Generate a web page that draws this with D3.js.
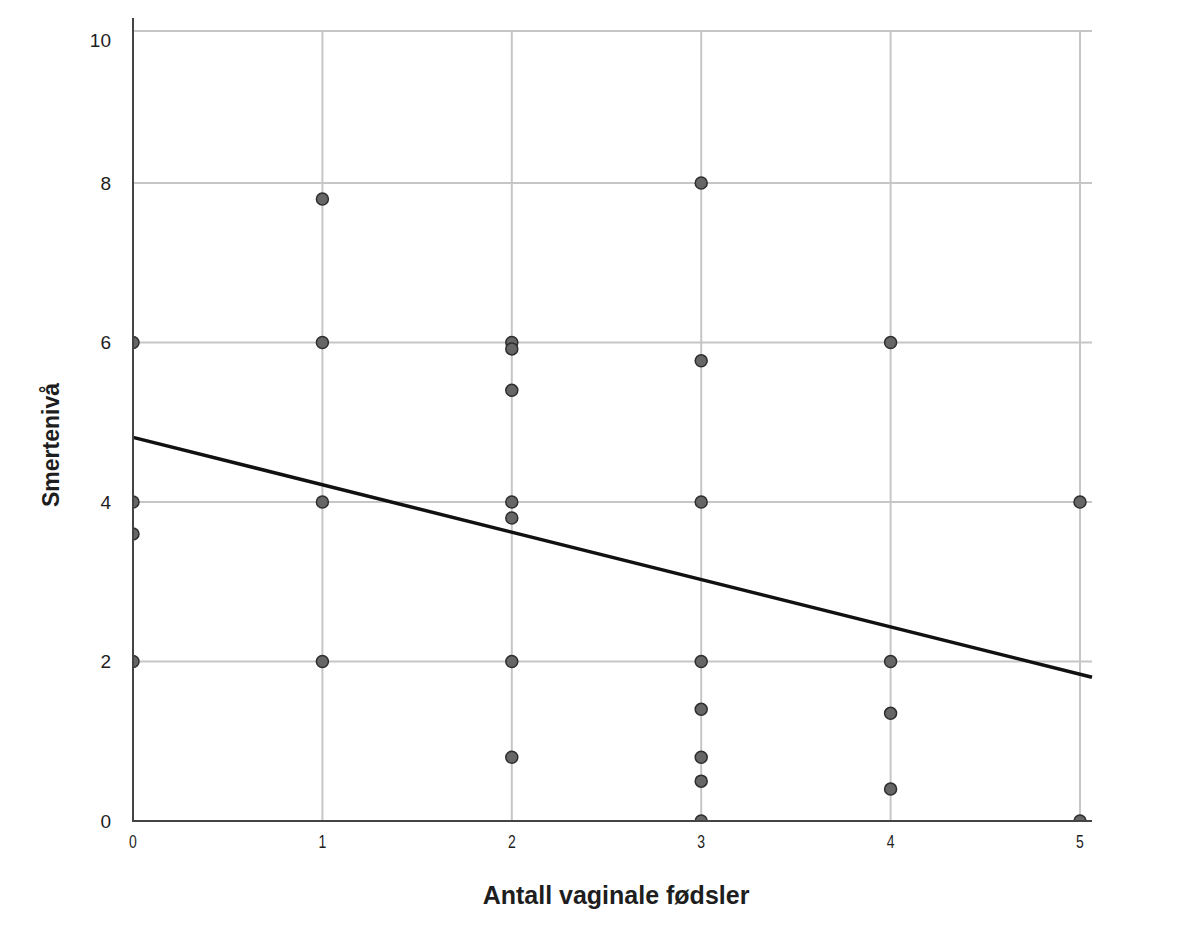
<!DOCTYPE html>
<html>
<head>
<meta charset="utf-8">
<script src="https://cdn.jsdelivr.net/npm/d3@7"></script>
<style>
  body { margin: 0; background: #fff; }
  text { font-family: "Liberation Sans", Arial, sans-serif; fill: #1e1e1e; }
</style>
</head>
<body>
<div id="chart"></div>
<script>
// births (x) and pain level (y) for each respondent
let births = [0, 0, 0, 0,
  1, 1, 1, 1,
  2, 2, 2, 2, 2, 2, 2,
  3, 3, 3, 3, 3, 3, 3, 3,
  4, 4, 4, 4,
  5, 5]
let pain = [6, 4, 3.6, 2,
  7.8, 6, 4, 2,
  6, 5.92, 5.4, 4, 3.8, 2, 0.8,
  8, 5.77, 4, 2, 1.4, 0.8, 0.5, 0,
  6, 2, 1.35, 0.4,
  4, 0]
let xTicks = [0, 1, 2, 3, 4, 5]
let yTicks = [0, 2, 4, 6, 8, 10]
// fitted line
let intercept = 4.81
let slope = -0.594

let width = 1202
let height = 952

let svg = d3.select('#chart')
  .append('svg')
  .attr('width', width)
  .attr('height', height)

let x = d3.scaleLinear().domain([0, 5]).range([133, 1080])
// top of picture is a little squeezed, so 8..10 gets its own segment
let y = d3.scaleLinear().domain([0, 8, 10]).range([821, 183, 31])
let xEnd = 1092

svg.append('defs').append('clipPath')
  .attr('id', 'plot')
  .append('rect')
  .attr('x', x(0))
  .attr('y', 0)
  .attr('width', xEnd - x(0))
  .attr('height', y(0))

// horizontal gridlines
svg.selectAll('.hgrid')
  .data(yTicks.filter(d => d > 0))
  .enter()
  .append('line')
  .attr('x1', x(0))
  .attr('x2', xEnd)
  .attr('y1', d => y(d))
  .attr('y2', d => y(d))
  .style('stroke', '#c6c6c6')
  .style('stroke-width', 2)

// vertical gridlines
svg.selectAll('.vgrid')
  .data(xTicks.filter(d => d > 0))
  .enter()
  .append('line')
  .attr('x1', d => x(d))
  .attr('x2', d => x(d))
  .attr('y1', y(10))
  .attr('y2', y(0))
  .style('stroke', '#c6c6c6')
  .style('stroke-width', 2)

// points
svg.append('g')
  .attr('clip-path', 'url(#plot)')
  .selectAll('circle')
  .data(births.map((b, i) => ({ b: b, p: pain[i] })))
  .enter()
  .append('circle')
  .attr('cx', d => x(d.b))
  .attr('cy', d => y(d.p))
  .attr('r', 6)
  .style('fill', '#666')
  .style('stroke', '#2e2e2e')
  .style('stroke-width', 1.5)

// regression line
let xMax = x.invert(xEnd)
svg.append('line')
  .attr('x1', x(0))
  .attr('y1', y(intercept))
  .attr('x2', xEnd)
  .attr('y2', y(intercept + slope * xMax))
  .style('stroke', '#111')
  .style('stroke-width', 3.5)

// axes lines
svg.append('line')
  .attr('x1', x(0))
  .attr('x2', x(0))
  .attr('y1', 18)
  .attr('y2', y(0) + 1)
  .style('stroke', '#444')
  .style('stroke-width', 2)
svg.append('line')
  .attr('x1', x(0))
  .attr('x2', xEnd)
  .attr('y1', y(0))
  .attr('y2', y(0))
  .style('stroke', '#444')
  .style('stroke-width', 2)

// tick labels
svg.selectAll('.ylab')
  .data(yTicks)
  .enter()
  .append('text')
  .attr('x', 111)
  .attr('y', d => y(d) + (d === 10 ? 9 : 0))
  .attr('dy', '0.35em')
  .attr('text-anchor', 'end')
  .style('font-size', '19px')
  .text(d => d)

// x tick labels look a bit stretched in height
svg.selectAll('.xlab')
  .data(xTicks)
  .enter()
  .append('text')
  .attr('transform', d => 'translate(' + x(d) + ',848) scale(1,1.3)')
  .attr('text-anchor', 'middle')
  .style('font-size', '14px')
  .text(d => d)

// axis titles
svg.append('text')
  .attr('x', 616)
  .attr('y', 904)
  .attr('text-anchor', 'middle')
  .style('font-size', '25px')
  .style('font-weight', 'bold')
  .text('Antall vaginale fødsler')

svg.append('text')
  .attr('transform', 'translate(51,445) rotate(-90)')
  .attr('dy', '0.35em')
  .attr('text-anchor', 'middle')
  .style('font-size', '23px')
  .style('font-weight', 'bold')
  .text('Smertenivå')
</script>
</body>
</html>
